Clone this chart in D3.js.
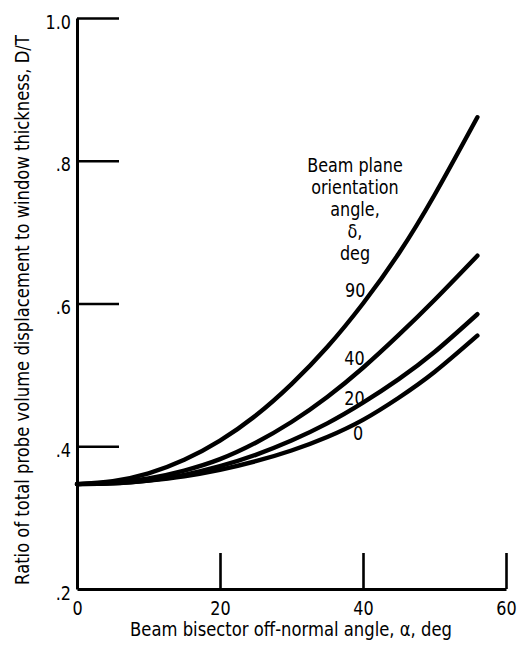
<!DOCTYPE html>
<html>
<head>
<meta charset="utf-8">
<script src="https://cdn.jsdelivr.net/npm/d3@7/dist/d3.min.js"></script>
<style>
  html, body { margin: 0; padding: 0; background: #fff; }
  svg { display: block; }
  text { font-family: "DejaVu Sans", sans-serif; fill: #000; }
</style>
</head>
<body>
<svg id="chart" width="517" height="647"></svg>
<script>
// Beam bisector off-normal angle, alpha (deg)
const alpha = [0, 5, 10, 15, 20, 25, 30, 35, 40, 45, 50, 56];

// D/T for each beam plane orientation angle, delta (deg)
const delta0  = [0.347, 0.348, 0.352, 0.358, 0.367, 0.379, 0.394, 0.413, 0.437, 0.468, 0.504, 0.555];
const delta20 = [0.347, 0.348, 0.352, 0.360, 0.372, 0.388, 0.408, 0.432, 0.461, 0.494, 0.532, 0.585];
const delta40 = [0.347, 0.349, 0.355, 0.366, 0.382, 0.405, 0.434, 0.469, 0.510, 0.556, 0.605, 0.667];
const delta90 = [0.347, 0.351, 0.362, 0.381, 0.408, 0.443, 0.487, 0.539, 0.600, 0.670, 0.752, 0.861];

const seriesNames = ["0", "20", "40", "90"];
const seriesValues = [delta0, delta20, delta40, delta90];

const xTicks = [0, 20, 40, 60];
const yTicks = [0.2, 0.4, 0.6, 0.8, 1.0];
const yTickLabels = [".2", ".4", ".6", ".8", "1.0"];

const xTitle = "Beam bisector off-normal angle, \u03b1, deg";
const yTitle = "Ratio of total probe volume displacement to window thickness, D/T";
const noteLines = ["Beam plane", "orientation", "angle,", "\u03b4,", "deg"];

// Curve-label anchor points (alpha, D/T), text baseline centre beside each curve
const labelAt = { "90": [38.9, 0.609], "40": [38.8, 0.514], "20": [38.8, 0.458], "0": [39.3, 0.409] };

// Horizontal squeeze that gives the lettering its condensed look
const K = 0.8;

const svg = d3.select("#chart");

const x = d3.scaleLinear().domain([0, 60]).range([77, 506]);
const y = d3.scaleLinear().domain([0.2, 1.0]).range([589, 18]);

function label(parent, px, py, str, size, anchor) {
  return parent.append("text")
    .attr("transform", `translate(${px},${py}) scale(${K},1)`)
    .attr("text-anchor", anchor || "middle")
    .attr("font-size", size)
    .text(str);
}

// Text squeezed horizontally to a given run length
function fitted(parent, transform, str, size, runLength) {
  const t = parent.append("text")
    .attr("text-anchor", "middle")
    .attr("font-size", size)
    .text(str);
  const natural = t.node().getComputedTextLength();
  t.attr("transform", `${transform} scale(${runLength / natural},1)`);
  return t;
}

// Left axis with inward ticks
const yAxis = d3.axisLeft(y)
  .tickValues(yTicks)
  .tickSizeInner(-42)
  .tickSizeOuter(0)
  .tickPadding(0)
  .tickFormat((d, i) => yTickLabels[i]);

const gy = svg.append("g").attr("transform", `translate(${x(0)},0)`).call(yAxis);
gy.select(".domain").attr("stroke", "#000").attr("stroke-width", 3).attr("stroke-linejoin", "round");
gy.selectAll(".tick line").attr("stroke", "#000").attr("stroke-width", 2.6)
  .filter(d => d === 0.2).remove();
gy.selectAll(".tick text")
  .attr("transform", `scale(${K},1)`)
  .attr("x", -6 / K).attr("y", 10).attr("dy", 0)
  .attr("font-size", 20);

// Bottom axis with inward ticks
const xAxis = d3.axisBottom(x)
  .tickValues(xTicks)
  .tickSizeInner(-36)
  .tickSizeOuter(0)
  .tickPadding(0)
  .tickFormat(d3.format("d"));

const gx = svg.append("g").attr("transform", `translate(0,${y(0.2)})`).call(xAxis);
gx.select(".domain").attr("stroke", "#000").attr("stroke-width", 3);
gx.selectAll(".tick line").attr("stroke", "#000").attr("stroke-width", 2.6)
  .filter(d => d === 0).remove();
gx.selectAll(".tick text")
  .attr("transform", `scale(${K},1)`)
  .attr("y", 26).attr("dy", 0)
  .attr("font-size", 20);

// Curves
const line = d3.line()
  .x((d, i) => x(alpha[i]))
  .y(d => y(d))
  .curve(d3.curveNatural);

svg.append("g")
  .selectAll("path")
  .data(seriesValues)
  .join("path")
  .attr("d", d => line(d))
  .attr("fill", "none")
  .attr("stroke", "#000")
  .attr("stroke-width", 4.4)
  .attr("stroke-linecap", "round");

// Curve labels
const gLab = svg.append("g");
seriesNames.forEach(n => label(gLab, x(labelAt[n][0]), y(labelAt[n][1]), n, 20));

// Legend note
const gNote = svg.append("g");
noteLines.forEach((t, i) => label(gNote, 355, 172 + i * 22, t, 20));

// Axis titles
const gTitles = svg.append("g");
fitted(gTitles, "translate(291,636)", xTitle, 19, 322);
fitted(gTitles, "translate(29,310) rotate(-90)", yTitle, 19, 550);
</script>
</body>
</html>
